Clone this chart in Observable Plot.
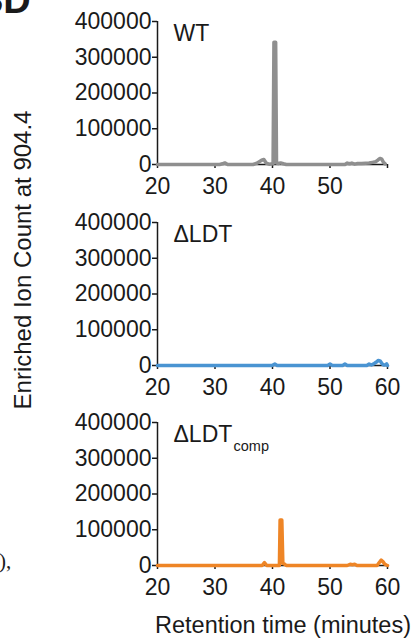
<!DOCTYPE html>
<html>
<head>
<meta charset="utf-8">
<script src="https://cdn.jsdelivr.net/npm/d3@7"></script>
<script src="https://cdn.jsdelivr.net/npm/@observablehq/plot@0.6"></script>
<style>
  html, body { margin: 0; padding: 0; background: #fff; }
  #root { position: relative; width: 419px; height: 639px; overflow: hidden;
          font-family: "Liberation Sans", Arial, Helvetica, sans-serif; color: #1a1a1a; }
  .panel { position: absolute; left: 0; }
  .panel svg { overflow: visible; }
  #figletter { position: absolute; left: -18px; top: -19px; font-size: 38px; line-height: 1;
               font-weight: bold; white-space: nowrap; }
  #fragment { position: absolute; left: -1px; top: 551px; font-family: "Liberation Serif", "Times New Roman", serif;
              font-size: 21px; line-height: 1; white-space: nowrap; }
  #ylabel { position: absolute; left: 23px; top: 260px; font-size: 24px; line-height: 1; white-space: nowrap;
            transform: translate(-50%, -50%) rotate(-90deg); }
  #xlabel { position: absolute; left: 155px; top: 614px; font-size: 23.5px; line-height: 1; white-space: nowrap; }
</style>
</head>
<body>
<div id="root">
  <div id="figletter">3D</div>
  <div id="fragment">),</div>
  <div id="ylabel">Enriched Ion Count at 904.4</div>
  <div id="xlabel">Retention time (minutes)</div>
</div>
<script>
// ---- Data ----
const panelNames = ["WT", "ΔLDT", "ΔLDT"];
const panelSubscripts = ["", "", "comp"];
const panelColors = ["#8f8f8f", "#4a94d2", "#ee8526"];
const xTicks = [20, 30, 40, 50, 60];
const yTicks = [0, 100000, 200000, 300000, 400000];
const xDomain = [20, 60];
const yDomain = [0, 400000];

// WT (grey)
const wtTime  = [20, 30.8, 31.3, 31.7, 32.2, 36.6, 37.2, 37.7, 38.1, 38.5, 38.9, 39.4, 40.1, 40.25, 40.55, 40.7, 41.0, 41.4, 41.9, 42.4, 52.6, 53.0, 53.4, 53.8, 54.3, 54.8, 55.5, 56.2, 56.8, 57.4, 57.9, 58.3, 58.7, 59.0, 59.3, 59.6];
const wtCount = [0, 0, 2000, 4500, 0, 0, 3000, 8000, 12000, 14000, 4000, 1000, 2000, 342000, 342000, 4000, 3000, 4500, 2000, 0, 0, 4000, 2000, 4000, 1000, 3000, 2500, 3500, 4000, 6000, 7500, 12000, 17000, 15000, 6000, 2000];

// ΔLDT (blue)
const ldtTime  = [20, 39.9, 40.4, 40.8, 49.6, 50.0, 50.4, 52.2, 52.6, 53.0, 56.4, 56.8, 57.2, 57.6, 58.0, 58.4, 58.7, 59.0, 59.3, 59.6, 59.85, 60];
const ldtCount = [0, 0, 4000, 0, 0, 4000, 0, 0, 4000, 0, 0, 4000, 1500, 4500, 9000, 14000, 13000, 6000, 1500, 1500, 4500, 0];

// ΔLDTcomp (orange)
const compTime  = [20, 38.2, 38.6, 39.0, 41.2, 41.32, 41.62, 41.8, 42.1, 42.4, 53.0, 53.5, 53.9, 54.3, 54.7, 58.2, 58.6, 58.9, 59.2, 59.5, 59.8, 60];
const compCount = [0, 0, 8000, 0, 0, 127000, 127000, 6000, 4000, 0, 0, 3500, 2000, 3500, 0, 0, 9000, 15000, 11000, 4000, 1500, 0];

const seriesTimes = [wtTime, ldtTime, compTime];
const seriesCounts = [wtCount, ldtCount, compCount];
const showLastXLabel = [false, true, true];
const panelTops = [0, 201, 401];

const ink = "#1a1a1a";
const fontFamily = "'Liberation Sans', Arial, Helvetica, sans-serif";

function makePanel(i) {
  const data = seriesTimes[i].map((t, k) => ({t, v: seriesCounts[i][k]}));
  const marks = [
    Plot.ruleY([0], {x1: xDomain[0], x2: xDomain[1], stroke: ink, strokeWidth: 1.5}),
    Plot.ruleX([xDomain[0]], {y1: yDomain[0], y2: yDomain[1], stroke: ink, strokeWidth: 1.5}),
    Plot.axisY({ticks: yTicks, tickFormat: d => String(d), tickSize: 5, tickPadding: 1,
                label: null, fontSize: 23, strokeWidth: 1.5}),
    Plot.axisX({ticks: xTicks, tickFormat: d => (showLastXLabel[i] || d !== 60) ? String(d) : "",
                tickSize: 4, tickPadding: 9, label: null, fontSize: 23, strokeWidth: 1.5}),
    Plot.line(data, {x: "t", y: "v", stroke: panelColors[i], strokeWidth: 3.5,
                     strokeLinejoin: "round", strokeLinecap: "round"}),
    Plot.text([panelNames[i]], {text: d => d, frameAnchor: "top-left", textAnchor: "start",
                                lineAnchor: "bottom", dx: 16, dy: 19.5, fontSize: 23, fill: ink})
  ];
  if (panelSubscripts[i]) {
    marks.push(Plot.text([panelSubscripts[i]], {text: d => d, frameAnchor: "top-left", textAnchor: "start",
                                lineAnchor: "bottom", dx: 76, dy: 28, fontSize: 14.5, fill: ink}));
  }
  return Plot.plot({
    width: 419, height: 200,
    marginLeft: 157, marginRight: 32, marginTop: 21, marginBottom: 36,
    style: {fontFamily, color: ink, background: "transparent", overflow: "visible"},
    x: {domain: xDomain},
    y: {domain: yDomain},
    marks
  });
}

const root = document.getElementById("root");
for (let i = 0; i < 3; i++) {
  const wrap = document.createElement("div");
  wrap.className = "panel";
  wrap.style.top = panelTops[i] + "px";
  wrap.appendChild(makePanel(i));
  root.appendChild(wrap);
}
</script>
</body>
</html>
